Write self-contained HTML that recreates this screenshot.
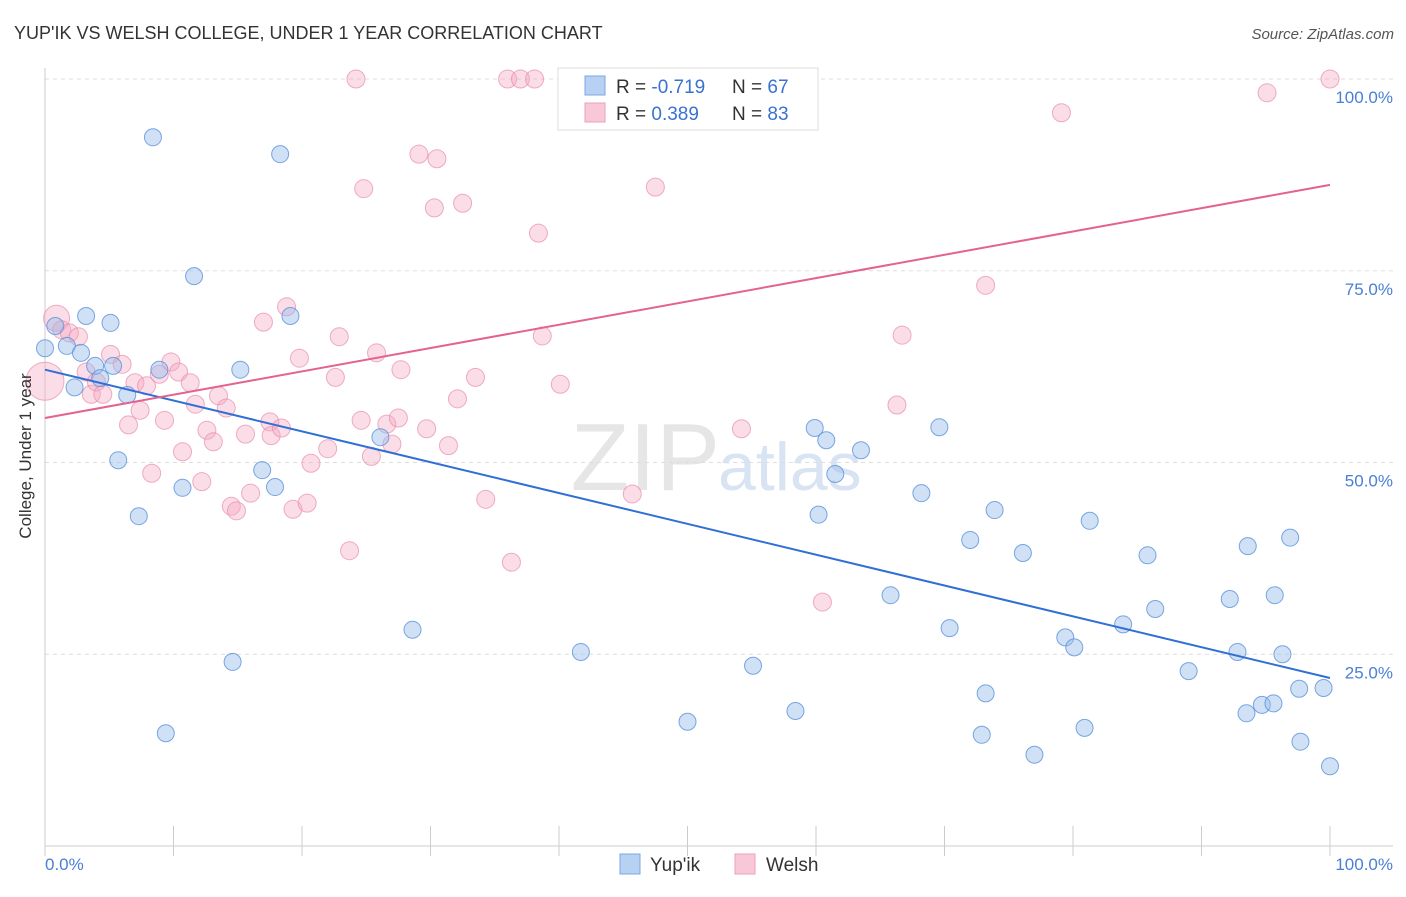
<!DOCTYPE html>
<html><head><meta charset="utf-8"><style>
body{margin:0;background:#fff;font-family:"Liberation Sans",sans-serif}
svg text{font-family:"Liberation Sans",sans-serif}
</style></head><body>
<svg id="chart" width="1406" height="892">
<text x="14" y="39" font-size="18" fill="#333">YUP'IK VS WELSH COLLEGE, UNDER 1 YEAR CORRELATION CHART</text>
<text x="1394" y="39" font-size="15" fill="#555" font-style="italic" text-anchor="end">Source: ZipAtlas.com</text>
<text x="720" y="490" font-size="96" fill="#e6e6e6" text-anchor="end" font-family="Liberation Serif">ZIP</text>
<text x="718" y="490" font-size="68" fill="#d8e4f3">atlas</text>
<g id="grid"></g>
<g id="axes"></g>
<g id="pts"></g>
<g id="lines"></g>
<text x="31" y="456" font-size="17" fill="#333" text-anchor="middle" transform="rotate(-90 31 456)">College, Under 1 year</text>
<text x="45" y="870" font-size="17" fill="#4a7fd4">0.0%</text>
<text x="1393" y="870" font-size="17" fill="#4a7fd4" text-anchor="end">100.0%</text>
<g>
<rect x="558" y="68" width="260" height="62" fill="#fff" stroke="#ddd"/>
<rect x="585" y="76" width="20" height="19" fill="#b7d1f3" stroke="#7aa7e3"/>
<rect x="585" y="103" width="20" height="19" fill="#f9c8d8" stroke="#ec9fba"/>
<text x="616" y="93" font-size="19" fill="#333">R = <tspan fill="#3a72d0">-0.719</tspan></text>
<text x="732" y="93" font-size="19" fill="#333">N = <tspan fill="#3a72d0">67</tspan></text>
<text x="616" y="120" font-size="19" fill="#333">R = <tspan fill="#3a72d0"> 0.389</tspan></text>
<text x="732" y="120" font-size="19" fill="#333">N = <tspan fill="#3a72d0">83</tspan></text>
</g>
<g><rect x="620" y="854" width="20" height="20" fill="#b7d1f3" stroke="#7aa7e3"/><text x="650" y="871" font-size="19" fill="#333">Yup'ik</text></g>
<g><rect x="735" y="854" width="20" height="20" fill="#f9c8d8" stroke="#ec9fba"/><text x="766" y="871" font-size="19" fill="#333">Welsh</text></g>
</svg>
<script>
const yTicks=[25,50,75,100];
const yTickLabels=["25.0%","50.0%","75.0%","100.0%"];
const blueX=[0,0.8,1.7,3.2,2.3,2.8,3.9,4.3,5.1,5.3,6.4,5.7,7.3,8.4,8.9,9.4,10.7,11.6,14.6,15.2,16.9,17.9,18.3,19.1,26.1,28.6,41.7,50.0,55.1,58.4,59.9,60.2,60.8,61.5,63.5,65.8,68.2,69.6,70.4,72.0,72.9,73.2,73.9,76.1,77.0,79.4,80.1,80.9,81.3,83.9,85.8,86.4,89.0,92.2,92.8,93.6,93.5,94.7,95.6,95.7,96.3,96.9,97.6,97.7,99.5,100];
const blueY=[64.9,67.8,65.2,69.1,59.8,64.3,62.6,61.0,68.2,62.6,58.8,50.3,43.0,92.4,62.1,14.7,46.7,74.3,24.0,62.1,49.0,46.8,90.2,69.1,53.3,28.2,25.3,16.2,23.5,17.6,54.5,43.2,52.9,48.5,51.6,32.7,46.0,54.6,28.4,39.9,14.5,19.9,43.8,38.2,11.9,27.2,25.9,15.4,42.4,28.9,37.9,30.9,22.8,32.2,25.3,39.1,17.3,18.4,18.6,32.7,25.0,40.2,20.5,13.6,20.6,10.4];
const pinkX=[0,0.9,1.3,1.9,2.6,3.2,3.6,4.0,4.5,5.1,6.0,6.5,7.0,7.4,7.9,8.3,8.9,9.3,9.8,10.4,10.7,11.3,11.7,12.2,12.6,13.1,13.5,14.1,14.5,14.9,15.6,16.0,17.0,17.5,17.6,18.4,18.8,19.3,19.8,20.4,20.7,22.0,22.6,22.9,23.7,24.2,24.6,24.8,25.4,25.8,26.6,27.0,27.5,27.7,29.1,29.7,30.3,30.5,31.4,32.1,32.5,33.5,34.3,36.0,36.3,37.0,38.1,38.4,38.7,40.1,41.2,45.7,47.5,54.2,60.5,66.3,66.7,73.2,79.1,95.1,100];
const pinkY=[60.6,68.8,67.3,66.9,66.4,61.8,58.9,60.5,58.9,64.1,62.8,54.9,60.4,56.8,60.0,48.6,61.5,55.5,63.1,61.8,51.4,60.4,57.6,47.5,54.2,52.7,58.7,57.1,44.3,43.7,53.7,46.0,68.3,55.3,53.5,54.5,70.3,43.9,63.6,44.7,49.9,51.8,61.1,66.4,38.5,100,55.5,85.7,50.8,64.3,55.0,52.4,55.8,62.1,90.2,54.4,83.2,89.6,52.2,58.3,83.8,61.1,45.2,100,37.0,100,100,79.9,66.5,60.2,100,45.9,85.9,54.4,31.8,57.5,66.6,73.1,95.6,98.2,100];
const blueFit=[62.1,21.9];
const pinkFit=[55.8,86.2];
const NS="http://www.w3.org/2000/svg";
const X0=45,X1=1330,Y0=846,Y100=79;
const sx=v=>X0+(X1-X0)*v/100;
const sy=v=>Y0-(Y0-Y100)*v/100;
function mk(t,a,p){const e=document.createElementNS(NS,t);for(const k in a)e.setAttribute(k,a[k]);p.appendChild(e);return e;}
const grid=document.getElementById('grid');
yTicks.forEach((t,i)=>{
  const l=mk('line',{x1:X0,x2:1393,y1:sy(t),y2:sy(t),stroke:'#ddd','stroke-dasharray':'4,4'},grid);
  
  
  const tx=mk('text',{x:1393,y:sy(t)+24,'font-size':17,fill:'#4a7fd4','text-anchor':'end'},grid);
  tx.textContent=yTickLabels[i];
  
  
});
const axes=document.getElementById('axes');
const ya=mk('line',{x1:X0,x2:X0,y1:68,y2:Y0,stroke:'#ccc'},axes);


const xa=mk('line',{x1:X0,x2:1393,y1:Y0,y2:Y0,stroke:'#ccc'},axes);


for(let i=0;i<=10;i++){
  const tk=mk('line',{x1:sx(i*10),x2:sx(i*10),y1:826,y2:Y0+10,stroke:'#ccc'},axes);
  
  
}
const pts=document.getElementById('pts');
pinkX.forEach((x,i)=>{
  const r=(i<2)?(i==0?19:13):9;
  const c=mk('circle',{cx:sx(x),cy:sy(pinkY[i]),r:r,fill:'rgba(245,170,196,0.4)',stroke:'rgba(232,140,172,0.7)','stroke-width':1},pts);
  
  
});
blueX.forEach((x,i)=>{
  const c=mk('circle',{cx:sx(x),cy:sy(blueY[i]),r:8.5,fill:'rgba(150,188,236,0.45)',stroke:'rgba(90,145,220,0.8)','stroke-width':1},pts);
  
  
});
const lines=document.getElementById('lines');
const bl=mk('line',{x1:sx(0),y1:sy(blueFit[0]),x2:sx(100),y2:sy(blueFit[1]),stroke:'#2f6fd6','stroke-width':2},lines);


const pl=mk('line',{x1:sx(0),y1:sy(pinkFit[0]),x2:sx(100),y2:sy(pinkFit[1]),stroke:'#e4628e','stroke-width':2},lines);


</script>
</body></html>
